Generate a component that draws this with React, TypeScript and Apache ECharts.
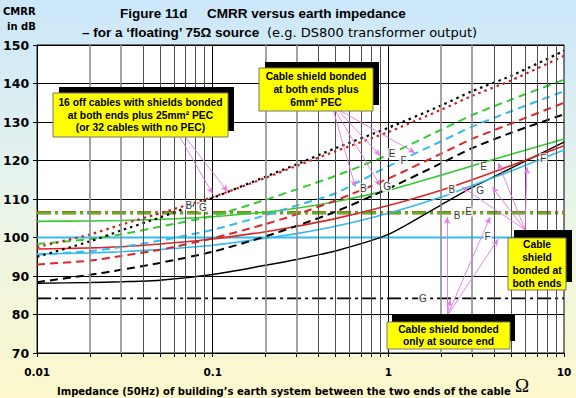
import React, { useEffect, useRef } from 'react';
import * as echarts from 'echarts';

// Impedance of the building's earth system (ohm) – x positions of the curve points
const impedanceOhm = [0.01, 0.02, 0.03, 0.05, 0.1, 0.2, 0.3, 0.5, 1, 2, 3, 5, 10];

// 16 off cables with shields bonded at both ends plus 25mm² PEC (dotted)
const pec25G = [95.0, 99.0, 101.8, 105.2, 110.3, 115.8, 119.0, 123.2, 128.5, 134.3, 138.0, 142.0, 148.5];
const pec25B = [97.5, 100.8, 103.3, 106.3, 110.5, 115.5, 118.6, 122.4, 127.4, 133.2, 136.8, 140.8, 147.2];

// Cable shield bonded at both ends plus 6mm² PEC (dashed)
const pec6E = [98.3, 99.6, 100.8, 102.8, 105.6, 109.8, 112.5, 116.0, 121.5, 128.0, 131.8, 135.8, 141.0];
const pec6F = [95.5, 96.5, 97.5, 99.2, 102.0, 105.8, 108.3, 111.5, 118.5, 125.0, 128.8, 132.8, 138.0];
const pec6B = [93.0, 94.0, 95.2, 96.8, 99.8, 103.5, 106.0, 109.6, 115.3, 121.8, 125.6, 129.6, 135.0];
const pec6G = [88.4, 90.3, 91.6, 93.4, 96.3, 100.3, 103.0, 106.7, 112.7, 119.3, 123.2, 127.2, 132.0];

// Cable shield bonded at both ends (solid)
const bothE = [104.2, 104.3, 104.4, 104.7, 105.4, 106.6, 107.6, 109.3, 112.3, 116.2, 118.6, 121.6, 125.6];
const bothB = [97.0, 97.3, 97.6, 98.3, 99.6, 101.5, 102.9, 104.9, 108.3, 112.3, 115.0, 118.7, 123.8];
const bothF = [95.7, 96.0, 96.3, 96.9, 98.0, 99.8, 101.0, 102.9, 106.3, 110.5, 113.5, 117.3, 122.7];
const bothG = [88.1, 88.3, 88.5, 88.9, 90.4, 92.8, 94.3, 96.5, 100.8, 108.5, 113.0, 118.0, 124.8];

// Cable shield bonded only at source end (flat)
const sourceX = [0.01, 10];
const sourceB = [106.4, 106.4];
const sourceE = [106.4, 106.4];
const sourceF = [100, 100];
const sourceG = [84.2, 84.2];

// Curve identification letters
const curveLabelText = ['B', 'G', 'E', 'F', 'B', 'G', 'E', 'B', 'G', 'F', 'B', 'E', 'F', 'G'];
const curveLabelX = [0.073, 0.088, 1.05, 1.22, 0.72, 0.985, 3.48, 2.3, 3.33, 7.63, 2.46, 2.86, 3.67, 1.57];
const curveLabelY = [108.4, 107.9, 121.9, 119.9, 112.8, 113.2, 118.4, 112.5, 112.2, 120.6, 105.8, 106.7, 100.2, 84.2];

// Annotation arrows (data units): from -> to
const arrowFrom = [
  [0.0641, 126.6], [0.0684, 126.6],
  [0.487, 132.9], [0.5, 132.9], [0.52, 132.9], [0.533, 132.9],
  [6.0, 102], [6.0, 102], [6.0, 102], [6.0, 102],
  [2.16, 79.6], [2.16, 79.6], [2.16, 79.6], [2.16, 79.6],
];
const arrowTo = [
  [0.1, 111.3], [0.1216, 111.9],
  [0.649, 113.1], [0.9, 113.4], [0.9, 121.2], [1.42, 122.0],
  [2.63, 113.1], [3.9, 113.1], [4.22, 119.4], [6.16, 118.3],
  [2.16, 105.3], [3.8, 105.3], [4.22, 99.6], [2.25, 83.8],
];

const xTickValues = [0.01, 0.1, 1, 10];
const majorGridX = [0.1, 1];
const minorGridX = [
  0.02, 0.03, 0.04, 0.05, 0.06, 0.07, 0.08, 0.09,
  0.2, 0.3, 0.4, 0.5, 0.6, 0.7, 0.8, 0.9,
  2, 3, 4, 5, 6, 7, 8, 9,
];
const allTickX = [...xTickValues, ...minorGridX].sort((a, b) => a - b);

const GREEN = '#33cc33';
const CYAN = '#33bbee';
const RED = '#e02424';
const BLACK = '#000000';
const SANS = "'Liberation Sans', Arial, sans-serif";
const VERDANA = "'DejaVu Sans', Verdana, sans-serif";

const DASHED = [8, 5];
const DOTTED = [2.5, 4];
const DASHDOT = [14, 4, 3, 4];

function curve(name: string, ys: number[], xs: number[], color: string, type: any, width: number, z = 3) {
  return {
    name,
    type: 'line',
    data: xs.map((x, i) => [x, ys[i]]),
    symbol: 'none',
    smooth: xs.length > 2 ? 0.25 : false,
    silent: true,
    z,
    lineStyle: { color, width, type, cap: 'butt' },
  };
}

function box(x: number, y: number, w: number, h: number, text: string, sx: number, sy: number) {
  return {
    type: 'group',
    z: 100,
    children: [
      { type: 'rect', z: 100, shape: { x: x + sx, y: y - sy, width: w, height: h }, style: { fill: '#000' } },
      { type: 'rect', z: 101, shape: { x, y, width: w, height: h }, style: { fill: '#ffff00', stroke: '#777', lineWidth: 1 } },
      {
        type: 'text', z: 102, x: x + w / 2, y: y + h / 2,
        style: {
          text, fill: '#000', align: 'center', verticalAlign: 'middle',
          fontFamily: SANS, fontWeight: 'bold', fontSize: 10.3, lineHeight: 12.7,
        },
      },
    ],
  };
}

export default function App() {
  const ref = useRef<HTMLDivElement>(null);

  useEffect(() => {
    if (!ref.current) return;
    const chart = echarts.init(ref.current, null, { renderer: 'svg' });

    const gridLines = [
      ...majorGridX.map((v) => ({ xAxis: v, lineStyle: { type: 'solid', color: '#000', width: 1 } })),
      ...minorGridX.map((v) => {
        const m = Math.round(v / Math.pow(10, Math.floor(Math.log10(v) + 1e-9)));
        const light = m === 2 || m === 3;
        return {
          xAxis: v,
          lineStyle: { type: 'solid', color: light ? '#8c8c8c' : '#505050', width: light ? 1.6 : 1 },
        };
      }),
    ];

    const option: any = {
      animation: false,
      backgroundColor: 'transparent',
      grid: {
        left: 36, right: 12, top: 45, bottom: 45,
        show: true, backgroundColor: '#ffffff', borderColor: '#000', borderWidth: 1,
      },
      xAxis: {
        type: 'log', logBase: 10, min: 0.01, max: 10,
        axisLine: { show: true, lineStyle: { color: '#000', width: 1 } },
        axisTick: { show: true, length: 4, lineStyle: { color: '#000' }, customValues: allTickX },
        axisLabel: {
          color: '#000', fontFamily: VERDANA, fontWeight: 'bold', fontSize: 10.5, margin: 13,
          customValues: xTickValues,
          formatter: (v: number) => {
            const t = xTickValues.find((tv) => Math.abs(tv - v) / tv < 1e-6);
            return t === undefined ? '' : String(t);
          },
        },
        splitLine: { show: false },
      },
      yAxis: {
        type: 'value', min: 70, max: 150, interval: 10,
        axisLine: { show: true, lineStyle: { color: '#000', width: 1 } },
        axisTick: { show: true, length: 4, lineStyle: { color: '#000' } },
        axisLabel: { color: '#000', fontFamily: VERDANA, fontWeight: 'bold', fontSize: 12.5, margin: 8 },
        splitLine: { show: true, lineStyle: { color: '#000', width: 1 } },
      },
      series: [
        {
          name: 'verticalGrid', type: 'line', data: [], silent: true, z: 1,
          markLine: {
            silent: true, symbol: ['none', 'none'], label: { show: false },
            animation: false,
            data: gridLines,
          },
        },
        curve('Source end B', sourceB, sourceX, '#c0501a', DASHDOT, 3.5, 2),
        curve('Source end E', sourceE, sourceX, '#55b822', DASHDOT, 2.2, 2),
        curve('Source end F', sourceF, sourceX, CYAN, 'solid', 1.8, 2),
        curve('Source end G', sourceG, sourceX, BLACK, DASHDOT, 1.8, 2),
        curve('Both ends G', bothG, impedanceOhm, BLACK, 'solid', 1.4),
        curve('Both ends F', bothF, impedanceOhm, CYAN, 'solid', 1.6),
        curve('Both ends B', bothB, impedanceOhm, RED, 'solid', 1.6),
        curve('Both ends E', bothE, impedanceOhm, GREEN, 'solid', 1.6),
        curve('6mm PEC G', pec6G, impedanceOhm, BLACK, DASHED, 2),
        curve('6mm PEC B', pec6B, impedanceOhm, RED, DASHED, 2),
        curve('6mm PEC F', pec6F, impedanceOhm, CYAN, DASHED, 2),
        curve('6mm PEC E', pec6E, impedanceOhm, GREEN, DASHED, 2),
        curve('25mm PEC G', pec25G, impedanceOhm, BLACK, DOTTED, 2.2),
        curve('25mm PEC B', pec25B, impedanceOhm, '#cc2020', DOTTED, 2.2),
        {
          name: 'arrows', type: 'line', data: [], silent: true, z: 5,
          markLine: {
            silent: true, animation: false,
            symbol: ['none', 'arrow'], symbolSize: [5, 7],
            label: { show: false },
            lineStyle: { type: 'solid', color: '#e07ae0', width: 1, opacity: 0.9 },
            data: arrowFrom.map((f, i) => [{ coord: f }, { coord: arrowTo[i] }]),
          },
        },
        {
          name: 'curveLabels', type: 'scatter', silent: true, z: 6,
          symbol: 'circle', symbolSize: 1,
          itemStyle: { color: 'rgba(0,0,0,0)' },
          data: curveLabelX.map((x, i) => ({
            value: [x, curveLabelY[i]],
            label: { formatter: curveLabelText[i] },
          })),
          label: {
            show: true, position: 'inside', color: '#000', fontFamily: SANS, fontSize: 10,
            backgroundColor: '#fff', padding: [0, 1, 0, 1],
          },
        },
      ],
      graphic: [
        {
          type: 'text', left: 3, top: 6, z: 100,
          style: { text: 'CMRR', fill: '#000', fontFamily: VERDANA, fontWeight: 'bold', fontSize: 10 },
        },
        {
          type: 'text', left: 7, top: 21, z: 100,
          style: { text: 'in dB', fill: '#000', fontFamily: VERDANA, fontWeight: 'bold', fontSize: 10 },
        },
        {
          type: 'text', x: 120, y: 13, z: 100,
          style: { text: 'Figure 11d', fill: '#000', fontFamily: SANS, fontWeight: 'bold', fontSize: 13.5, verticalAlign: 'middle' },
        },
        {
          type: 'text', x: 207, y: 13, z: 100,
          style: { text: 'CMRR versus earth impedance', fill: '#000', fontFamily: SANS, fontWeight: 'bold', fontSize: 13.5, verticalAlign: 'middle' },
        },
        {
          type: 'text', x: 82, y: 32, z: 100,
          style: { text: '\u2013 for a \u2018floating\u2019 75\u03A9 source', fill: '#000', fontFamily: SANS, fontWeight: 'bold', fontSize: 13.5, verticalAlign: 'middle' },
        },
        {
          type: 'text', x: 267, y: 32, z: 100,
          style: { text: '(e.g. DS800 transformer output)', fill: '#000', fontFamily: VERDANA, fontSize: 13, verticalAlign: 'middle' },
        },
        {
          type: 'text', x: 57, y: 391, z: 100,
          style: {
            text: 'Impedance (50Hz) of building\u2019s earth system between the two ends of the cable',
            fill: '#000', fontFamily: VERDANA, fontWeight: 'bold', fontSize: 10, verticalAlign: 'middle',
          },
        },
        {
          type: 'text', x: 522, y: 385, z: 100,
          style: { text: '\u03A9', fill: '#000', fontFamily: "'Liberation Serif', serif", fontSize: 19, align: 'center', verticalAlign: 'middle' },
        },
        box(53, 93, 175, 44, '16 off cables with shields bonded\nat both ends plus 25mm\u00B2 PEC\n(or 32 cables with no PEC)', 6, 6),
        box(259, 68, 114, 43, 'Cable shield bonded\nat both ends plus\n6mm\u00B2 PEC', 6, 6),
        box(508, 238, 58, 52, 'Cable\nshield\nbonded at\nboth ends', 6, 8),
        box(387, 322, 123, 27, 'Cable shield bonded\nonly at source end', 5, 8),
      ],
    };

    chart.setOption(option);
    return () => chart.dispose();
  }, []);

  return (
    <div
      ref={ref}
      style={{
        position: 'fixed', left: 0, top: 0, width: 576, height: 398,
        background: 'linear-gradient(to bottom, #cbe7fa 0%, #e6f3ec 45%, #fdf8cc 100%)',
      }}
    />
  );
}
